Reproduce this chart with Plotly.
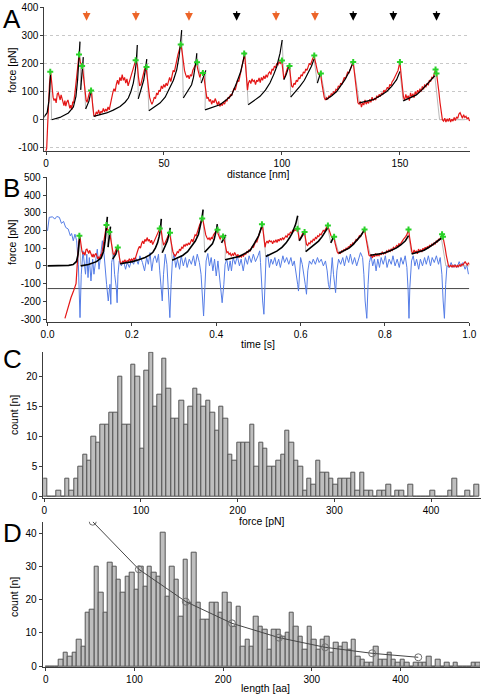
import plotly.graph_objects as go

W, H = 484, 698
FONT = "Liberation Sans, Arial, Helvetica, sans-serif"

# ---------------- Panel A / B : force-extension trace ----------------
red_trace = [
    (-4.7, -296), (-3.3, -230), (-2.0, -180), (-0.8, -140), (0.3, -100), (0.7, -20), (1.1, 60), (1.5, 130), (2.0, 168),
    (2.5, 120), (3.0, 80), (3.4, 68), (3.9, 75), (4.3, 60), (4.8, 92), (5.2, 95), (5.6, 78), (6.0, 70), (6.4, 88),
    (6.8, 72), (7.2, 58), (7.6, 50), (8.0, 68), (8.4, 48), (8.8, 62), (9.3, 70), (9.7, 55), (10.1, 40), (10.5, 52),
    (10.9, 35), (11.3, 62), (11.7, 60), (12.2, 90), (12.8, 140), (13.4, 190), (14.0, 230), (14.5, 205), (15.0, 195),
    (15.4, 190), (15.8, 160), (16.2, 120), (16.6, 85), (17.0, 70), (17.4, 62), (17.8, 80), (18.3, 92), (18.8, 103),
    (19.3, 95), (19.8, 50), (20.3, 15), (20.8, 12), (21.3, 28), (21.8, 20), (22.3, 35), (22.8, 18), (23.3, 30),
    (23.8, 25), (24.3, 40), (24.8, 28), (25.3, 38), (25.8, 30), (26.3, 45), (26.8, 35), (27.3, 60), (27.8, 75),
    (28.3, 95), (28.8, 110), (29.3, 100), (29.8, 125), (30.3, 140), (30.8, 125), (31.3, 150), (31.8, 138), (32.3, 160),
    (32.8, 140), (33.3, 150), (33.8, 130), (34.3, 145), (34.8, 120), (35.3, 135), (35.8, 150), (36.3, 165), (36.8, 175),
    (37.3, 195), (37.8, 205), (38.2, 210), (38.7, 195), (39.2, 150), (39.7, 120), (40.2, 125), (40.7, 140), (41.2, 160),
    (41.8, 180), (42.4, 187), (42.9, 150), (43.4, 100), (43.9, 80), (44.4, 65), (44.9, 55), (45.4, 65), (45.9, 80),
    (46.4, 75), (46.9, 95), (47.4, 88), (47.9, 105), (48.4, 100), (48.9, 120), (49.4, 110), (49.9, 125), (50.4, 115),
    (50.9, 130), (51.4, 120), (51.9, 140), (52.4, 150), (52.9, 135), (53.4, 160), (53.9, 175), (54.4, 170), (54.9, 195),
    (55.4, 210), (55.9, 230), (56.4, 245), (56.8, 255), (57.2, 267), (57.7, 240), (58.2, 200), (58.7, 175), (59.2, 160),
    (59.7, 150), (60.2, 158), (60.7, 145), (61.2, 160), (61.7, 155), (62.2, 175), (62.7, 185), (63.2, 195), (63.8, 203),
    (64.3, 180), (64.8, 160), (65.2, 150), (65.7, 165), (66.2, 170), (66.7, 165), (67.2, 130), (67.7, 95), (68.2, 75),
    (68.7, 80), (69.2, 65), (69.7, 72), (70.2, 55), (70.7, 68), (71.2, 60), (71.7, 75), (72.2, 60), (72.7, 52),
    (73.2, 65), (73.7, 47), (74.2, 58), (74.7, 50), (75.2, 62), (75.7, 55), (76.2, 70), (76.7, 65), (77.2, 80),
    (77.7, 75), (78.2, 90), (78.7, 85), (79.2, 100), (79.7, 110), (80.2, 105), (80.7, 125), (81.2, 140), (81.7, 135),
    (82.2, 160), (82.7, 180), (83.2, 195), (83.7, 215), (84.1, 234), (84.6, 190), (85.0, 140), (85.4, 105), (85.8, 130),
    (86.3, 140), (86.8, 128), (87.3, 145), (87.8, 136), (88.3, 140), (88.8, 125), (89.3, 140), (89.8, 135), (90.3, 148),
    (90.8, 132), (91.3, 150), (91.8, 140), (92.3, 155), (92.8, 145), (93.3, 160), (93.8, 150), (94.3, 165), (94.8, 170),
    (95.3, 160), (95.8, 180), (96.3, 175), (96.8, 190), (97.3, 185), (97.8, 200), (98.3, 195), (98.8, 205), (99.3, 200),
    (99.9, 210), (100.4, 180), (100.8, 145), (101.3, 155), (101.8, 170), (102.4, 185), (103.1, 191), (103.6, 160),
    (104.1, 120), (104.6, 115), (105.1, 130), (105.6, 125), (106.1, 140), (106.6, 135), (107.1, 150), (107.6, 145),
    (108.1, 160), (108.6, 155), (109.1, 170), (109.6, 165), (110.1, 180), (110.6, 175), (111.1, 190), (111.6, 200),
    (112.1, 195), (112.6, 210), (113.1, 218), (113.6, 227), (114.1, 205), (114.6, 190), (115.1, 170), (115.6, 160),
    (116.4, 162), (116.9, 130), (117.4, 100), (117.9, 80), (118.4, 70), (118.9, 78), (119.4, 72), (119.9, 85),
    (120.4, 80), (120.9, 92), (121.4, 88), (121.9, 100), (122.4, 95), (122.9, 108), (123.4, 105), (123.9, 120),
    (124.4, 115), (124.9, 130), (125.4, 125), (125.9, 140), (126.4, 150), (126.9, 145), (127.4, 160), (127.9, 170),
    (128.4, 165), (128.9, 180), (129.4, 190), (129.8, 198), (130.2, 204), (130.7, 170), (131.2, 120), (131.7, 80),
    (132.2, 60), (132.7, 55), (133.2, 65), (133.7, 45), (134.2, 60), (134.7, 52), (135.2, 70), (135.7, 55), (136.2, 65),
    (136.7, 58), (137.2, 72), (137.7, 62), (138.2, 80), (138.7, 68), (139.2, 75), (139.7, 70), (140.2, 85), (140.7, 78),
    (141.2, 90), (141.7, 82), (142.2, 95), (142.7, 88), (143.2, 105), (143.7, 98), (144.2, 110), (144.7, 115),
    (145.2, 108), (145.7, 125), (146.2, 120), (146.7, 135), (147.2, 140), (147.7, 150), (148.2, 155), (148.7, 165),
    (149.2, 175), (149.6, 190), (150.0, 205), (150.5, 160), (151.0, 110), (151.5, 80), (152.0, 70), (152.5, 90),
    (153.0, 75), (153.5, 85), (154.0, 68), (154.5, 95), (155.0, 80), (155.5, 92), (156.0, 78), (156.5, 100), (157.0, 88),
    (157.5, 105), (158.0, 95), (158.5, 110), (159.0, 100), (159.5, 118), (160.0, 108), (160.5, 125), (161.0, 115),
    (161.5, 130), (162.0, 122), (162.5, 140), (163.0, 135), (163.5, 150), (164.0, 148), (164.5, 160), (165.0, 175),
    (165.5, 165), (166.0, 140), (166.5, 100), (167.0, 60), (167.5, 20), (168.0, 0), (168.5, -5), (169.0, 5),
    (169.5, -8), (170.0, 3), (170.5, -6), (171.0, 5), (171.5, -8), (172.0, 2), (172.5, -5), (173.0, 8), (173.5, -3),
    (174.0, 10), (174.5, 5), (175.0, 20), (175.5, 25), (176.0, 12), (176.5, 5), (177.0, 18), (177.5, 8), (178.0, 12),
    (178.5, 2), (179.0, 8), (179.5, -5),
]
red_distance_nm = [p[0] for p in red_trace]
red_force_pN = [p[1] for p in red_trace]

# worm-like-chain fit segments (distance nm, force pN)
fit_distance_nm = [
    [-12.5, -9, -6, -3, -1, 0.5, 1.2, 1.6, 1.9],
    [2.4, 5.9, 9.5, 11.6, 12.7, 13.4, 14.0, 14.4],
    [14.7, 15.0, 15.4, 15.8],
    [16.8, 17.5, 18.2, 18.9, 19.3],
    [20.2, 23, 25.7, 28.5, 31.4, 33.5, 34.9, 36, 37, 37.7, 38.2, 38.7],
    [39.1, 40.5, 41.4, 41.9, 42.7],
    [43.6, 46, 48.3, 50.5, 52.5, 54, 55.4, 56.4, 57.0, 57.5],
    [58.2, 59.6, 61.0, 61.7, 62.5, 63.1, 63.6, 63.9],
    [65.8, 66.5, 67.2, 67.7],
    [67.4, 70.5, 73.7, 76.6, 78.7, 80.8, 82.5, 84.0, 84.4],
    [85.7, 88, 90.7, 93, 94.9, 96.5, 97.8, 99.2, 100.1],
    [100.8, 101.8, 102.7, 103.4],
    [103.7, 105.6, 107.6, 109.5, 111.1, 112.5, 113.6],
    [115.0, 115.7, 116.4],
    [118.6, 121, 123.2, 125, 126.7, 128.5, 130.2],
    [132.8, 135.5, 138.7, 141.5, 144.4, 146.5, 148.6, 150.0],
    [151.4, 154, 157, 159.2, 161.3, 163.2, 164.8],
]
fit_force_pN = [
    [0, 0, 1, 3, 8, 25, 65, 110, 160],
    [0, 8, 24, 45, 83, 142, 224, 277],
    [106, 150, 195, 222],
    [38, 50, 66, 94, 106],
    [12, 17, 24, 34, 47, 62, 77, 100, 130, 165, 200, 265],
    [74, 112, 140, 165, 215],
    [32, 45, 59, 80, 112, 140, 177, 225, 270, 318],
    [77, 95, 112, 124, 150, 177, 210, 236],
    [130, 145, 160, 175],
    [35, 43, 53, 72, 88, 131, 170, 225, 238],
    [53, 66, 83, 105, 130, 160, 189, 236, 283],
    [142, 160, 183, 195],
    [80, 98, 118, 140, 165, 190, 215],
    [130, 148, 167],
    [71, 84, 100, 120, 142, 170, 203],
    [60, 64, 71, 84, 100, 118, 142, 171],
    [67, 76, 88, 105, 124, 140, 156],
]
tail_distance_nm = [166.8, 177.4]
tail_force_pN = [0, 0]

# rupture peaks (green)
peak_distance_nm = [1.8, 14.0, 15.3, 19.1, 38.0, 42.6, 57.1, 64.0, 66.5, 84.0, 100.0, 103.2, 113.7, 116.5, 130.2, 150.0, 165.1, 165.5]
peak_force_pN = [170, 231, 191, 104, 211, 187, 267, 204, 166, 235, 210, 191, 228, 164, 205, 205, 178, 164]

# arrows above panel A
arrow_orange_nm = [17.2, 38.1, 60.6, 97.5, 114.0]
arrow_black_nm = [80.8, 130.2, 147.2, 165.5]

# time conversion for panel B (constant pulling speed)
PULL_T0_S = 0.066
PULL_S_PER_NM = 0.005266

# derivative signal in panel B (time s, pN)
blue_trace = [
    (0.0, 198), (0.004, 274), (0.012, 277), (0.017, 264), (0.022, 279), (0.028, 274), (0.033, 240), (0.038, 251),
    (0.043, 217), (0.049, 208), (0.054, 170), (0.057, 183), (0.061, 142), (0.065, 179), (0.069, 142), (0.073, 9),
    (0.077, -292), (0.080, -47), (0.084, 85), (0.087, 28), (0.090, -47), (0.093, 66), (0.096, -66), (0.099, 47),
    (0.103, -85), (0.107, 38), (0.110, -47), (0.114, 28), (0.118, 94), (0.122, -19), (0.126, 66), (0.130, 142),
    (0.134, 66), (0.137, -47), (0.140, -104), (0.144, -198), (0.148, -104), (0.150, -217), (0.152, 19), (0.156, 66),
    (0.159, -47), (0.163, -123), (0.165, -208), (0.167, -47), (0.170, 28), (0.175, 0), (0.180, 28), (0.185, -19),
    (0.189, 19), (0.194, -9), (0.199, 32), (0.204, 9), (0.209, 47), (0.215, 9), (0.219, 57), (0.225, 19), (0.230, -28),
    (0.235, 47), (0.239, 9), (0.243, 75), (0.247, -28), (0.251, 38), (0.255, 57), (0.259, 19), (0.263, 66),
    (0.266, -28), (0.269, -123), (0.272, -198), (0.275, -47), (0.279, 66), (0.283, 9), (0.286, -104), (0.288, -179),
    (0.290, -292), (0.293, -104), (0.296, 28), (0.300, 66), (0.304, -9), (0.308, 38), (0.313, -19), (0.317, 57),
    (0.322, 0), (0.327, 47), (0.331, -9), (0.336, 38), (0.341, 9), (0.346, 57), (0.350, 0), (0.355, 66), (0.360, 19),
    (0.364, -47), (0.367, -160), (0.370, -283), (0.373, -123), (0.376, 28), (0.380, 70), (0.384, 0), (0.388, 47),
    (0.392, -28), (0.396, 38), (0.400, -57), (0.404, 28), (0.408, -85), (0.411, -123), (0.414, -208), (0.418, -104),
    (0.421, 9), (0.425, 38), (0.429, -28), (0.433, 28), (0.436, -28), (0.440, 47), (0.445, 9), (0.450, 57), (0.455, 0),
    (0.459, 38), (0.464, -28), (0.469, 47), (0.474, 9), (0.478, 57), (0.483, 19), (0.488, 66), (0.493, 24),
    (0.499, 57), (0.503, 85), (0.505, 19), (0.507, -85), (0.510, -198), (0.513, -273), (0.515, -104), (0.518, 47),
    (0.522, 66), (0.526, -9), (0.530, 38), (0.534, 9), (0.539, 47), (0.543, 0), (0.548, 38), (0.552, -9), (0.558, 57),
    (0.562, 19), (0.567, 47), (0.572, 9), (0.577, 47), (0.581, 0), (0.585, 28), (0.589, -28), (0.593, -104),
    (0.595, -142), (0.598, -47), (0.600, 47), (0.604, 9), (0.608, -47), (0.611, -104), (0.614, -160), (0.617, -28),
    (0.621, 28), (0.626, 9), (0.630, 38), (0.635, 9), (0.640, 47), (0.644, 19), (0.649, 38), (0.654, 0), (0.659, 28),
    (0.663, -28), (0.666, -104), (0.669, -132), (0.672, -47), (0.675, 47), (0.678, -47), (0.681, -123), (0.683, -151),
    (0.686, -28), (0.690, 38), (0.695, 9), (0.700, 47), (0.704, 0), (0.709, 57), (0.714, 19), (0.718, 66), (0.723, 9),
    (0.728, 47), (0.733, 0), (0.738, 38), (0.742, 75), (0.747, 47), (0.750, -47), (0.753, -198), (0.757, -296),
    (0.760, -104), (0.763, 19), (0.767, 57), (0.771, 0), (0.775, 38), (0.779, -28), (0.783, 38), (0.787, -9),
    (0.791, 47), (0.796, 9), (0.801, 57), (0.805, -9), (0.810, 38), (0.815, 9), (0.819, 57), (0.824, 0), (0.829, 38),
    (0.834, -9), (0.838, 47), (0.843, 9), (0.848, 57), (0.852, -9), (0.855, -142), (0.857, -296), (0.859, -123),
    (0.863, 28), (0.867, 57), (0.871, 0), (0.875, 38), (0.880, -19), (0.884, 38), (0.889, 0), (0.894, 47), (0.898, 9),
    (0.903, 57), (0.908, 0), (0.912, 47), (0.917, 19), (0.922, 57), (0.927, 9), (0.931, 47), (0.935, -47),
    (0.938, -198), (0.941, -296), (0.944, -104), (0.947, 0), (0.952, -9), (0.957, 19), (0.961, -9), (0.966, 9),
    (0.971, -9), (0.976, 24), (0.980, 0), (0.985, 19), (0.990, -19), (0.994, 5), (0.998, -47),
]
blue_time_s = [p[0] for p in blue_trace]
blue_force_pN = [p[1] for p in blue_trace]
threshold_pN = -128

# ---------------- Panel C : rupture force histogram ----------------
force_bin_start = -1.0
force_bin_width = 4.55
force_counts = [3, 0, 0, 1, 0, 3, 1, 3, 5, 7, 6, 10, 9, 12, 12, 14, 14, 20, 12, 12, 22, 20, 8, 21, 24, 15, 17, 23, 18, 13,
                13, 16, 12, 15, 18, 17, 15, 16, 14, 11, 15, 13, 7, 6, 9, 9, 9, 12, 5, 9, 8, 5, 5, 6, 7, 11, 9, 6, 5, 1,
                3, 2, 6, 4, 4, 3, 2, 3, 3, 3, 4, 1, 4, 1, 1, 0, 1, 1, 2, 0, 1, 1, 0, 2, 0, 0, 0, 0, 1, 0,
                0, 0, 1, 3, 0, 0, 1, 0, 2]

# ---------------- Panel D : contour length histogram ----------------
length_bin_start = 0.0
length_bin_width = 5.0
length_counts = [0, 0, 0, 2, 4, 3, 4, 8, 6, 16, 17, 30, 22, 16, 31, 30, 26, 22, 27, 28, 23, 30, 24, 30, 28, 27, 40, 21, 30,
                 26, 15, 32, 19, 34, 19, 14, 14, 19, 19, 16, 22, 19, 12, 18, 6, 8, 6, 15, 12, 11, 5, 11, 11, 9, 10, 16,
                 12, 9, 5, 12, 8, 5, 8, 9, 4, 7, 6, 7, 5, 8, 3, 2, 1, 1, 6, 2, 2, 4, 2, 1, 2, 1, 0, 1, 1, 1, 3, 0, 2,
                 0, 1, 0, 1, 0, 0, 0, 1, 1]
model_length_aa = [53, 105, 158, 210, 263, 315, 368, 420]
model_count = [43.4, 29.1, 19.4, 12.9, 8.6, 5.7, 3.9, 2.7]

# ---------------- build figure ----------------
RED = "rgb(228,22,22)"
BLUE = "rgb(85,125,230)"
GREEN = "rgb(40,210,40)"
ORANGE = "rgb(236,100,40)"


def to_time(dlist):
    return [None if d is None else PULL_T0_S + d * PULL_S_PER_NM for d in dlist]


# connectors (thin gray) from end of each fit to start of the next
conn_d, conn_f = [], []
segs_d = fit_distance_nm + [tail_distance_nm]
segs_f = fit_force_pN + [tail_force_pN]
for k in range(len(segs_d) - 1):
    conn_d += [segs_d[k][-1], segs_d[k + 1][0], None]
    conn_f += [segs_f[k][-1], segs_f[k + 1][0], None]
tail_conn_d = tail_distance_nm + [None]
tail_conn_f = tail_force_pN + [None]

fits_d, fits_f = [], []
for dd, ff in zip(fit_distance_nm, fit_force_pN):
    fits_d += dd + [None]
    fits_f += ff + [None]

fig = go.Figure()

# Panel A
fig.add_trace(go.Scatter(x=conn_d + tail_conn_d, y=conn_f + tail_conn_f, mode="lines",
                         line=dict(color="rgb(185,185,185)", width=1), xaxis="x", yaxis="y", hoverinfo="skip"))
fig.add_trace(go.Scatter(x=red_distance_nm, y=red_force_pN, mode="lines", line=dict(color=RED, width=1.2),
                         xaxis="x", yaxis="y"))
fig.add_trace(go.Scatter(x=fits_d, y=fits_f, mode="lines", line=dict(color="black", width=1.2),
                         xaxis="x", yaxis="y"))
fig.add_trace(go.Scatter(x=peak_distance_nm, y=peak_force_pN, mode="markers",
                         marker=dict(symbol="cross", size=5, color=GREEN), xaxis="x", yaxis="y"))

# Panel B
fig.add_trace(go.Scatter(x=[0, 1], y=[threshold_pN, threshold_pN], mode="lines",
                         line=dict(color="rgb(70,70,70)", width=1), xaxis="x2", yaxis="y2"))
fig.add_trace(go.Scatter(x=blue_time_s, y=blue_force_pN, mode="lines", line=dict(color=BLUE, width=1),
                         xaxis="x2", yaxis="y2"))
fig.add_trace(go.Scatter(x=to_time(conn_d + tail_conn_d), y=conn_f + tail_conn_f, mode="lines",
                         line=dict(color="rgb(185,185,185)", width=1), xaxis="x2", yaxis="y2"))
fig.add_trace(go.Scatter(x=to_time(red_distance_nm), y=red_force_pN, mode="lines", line=dict(color=RED, width=1.2),
                         xaxis="x2", yaxis="y2"))
fig.add_trace(go.Scatter(x=to_time(fits_d), y=fits_f, mode="lines", line=dict(color="black", width=1.6),
                         xaxis="x2", yaxis="y2"))
fig.add_trace(go.Scatter(x=to_time(peak_distance_nm), y=peak_force_pN, mode="markers",
                         marker=dict(symbol="cross", size=5, color=GREEN), xaxis="x2", yaxis="y2"))

# Panel C
fig.add_trace(go.Bar(x=[force_bin_start + force_bin_width * (k + 0.5) for k in range(len(force_counts))],
                     y=force_counts, width=force_bin_width,
                     marker=dict(color="rgb(190,190,190)", line=dict(color="rgb(85,85,85)", width=1)),
                     xaxis="x3", yaxis="y3"))

# Panel D
fig.add_trace(go.Bar(x=[length_bin_start + length_bin_width * (k + 0.5) for k in range(len(length_counts))],
                     y=length_counts, width=length_bin_width,
                     marker=dict(color="rgb(190,190,190)", line=dict(color="rgb(85,85,85)", width=1)),
                     xaxis="x4", yaxis="y4"))
fig.add_trace(go.Scatter(x=model_length_aa, y=model_count, mode="lines+markers",
                         line=dict(color="rgb(70,70,70)", width=1),
                         marker=dict(symbol="circle-open", size=7, color="rgb(110,110,110)", line=dict(width=1)),
                         xaxis="x4", yaxis="y4"))


def px_x(p):
    return p / W


def px_y(p):
    return 1 - p / H


axis_common = dict(showline=True, linecolor="rgb(60,60,60)", linewidth=1, ticks="outside", ticklen=3,
                   tickcolor="rgb(60,60,60)", tickfont=dict(family=FONT, size=10, color="black"),
                   zeroline=False, showgrid=False, mirror=False, automargin=False)

fig.update_layout(
    width=W, height=H, margin=dict(l=0, r=0, t=0, b=0, pad=0), autosize=False,
    paper_bgcolor="white", plot_bgcolor="white", showlegend=False, bargap=0,
    font=dict(family=FONT, size=11, color="black"),
    xaxis=dict(axis_common, domain=[px_x(44.3), px_x(470)], range=[-0.72, 179.7], anchor="y",
               tickvals=[0, 50, 100, 150]),
    yaxis=dict(axis_common, domain=[px_y(150.7), px_y(7)], range=[-110, 400], anchor="x",
               tickvals=[-100, 0, 100, 200, 300, 400], ticktext=["-100", "0", "100", "200", "300", "400"],
               showgrid=True, gridcolor="rgb(200,200,200)", griddash="dot", gridwidth=1),
    xaxis2=dict(axis_common, domain=[px_x(46.7), px_x(469.3)], range=[-0.002, 1.0], anchor="y2",
                tickvals=[0, 0.2, 0.4, 0.6, 0.8, 1.0], ticktext=["0.0", "0.2", "0.4", "0.6", "0.8", "1.0"]),
    yaxis2=dict(axis_common, domain=[px_y(321.7), px_y(177.3)], range=[-315, 500], anchor="x2",
                tickvals=[-300, -200, -100, 0, 100, 200, 300, 400, 500],
                ticktext=["-300", "-200", "-100", "0", "100", "200", "300", "400", "500"]),
    xaxis3=dict(axis_common, domain=[px_x(43.3), px_x(480.7)], range=[-1.0, 451.3], anchor="y3",
                tickvals=[0, 100, 200, 300, 400]),
    yaxis3=dict(axis_common, domain=[px_y(497.7), px_y(351.7)], range=[-0.17, 24.1], anchor="x3",
                tickvals=[0, 5, 10, 15, 20]),
    xaxis4=dict(axis_common, domain=[px_x(42.7), px_x(480)], range=[-3.4, 489.6], anchor="y4",
                tickvals=[0, 100, 200, 300, 400]),
    yaxis4=dict(axis_common, domain=[px_y(667.3), px_y(521.7)], range=[-0.3, 43.4], anchor="x4",
                tickvals=[0, 10, 20, 30, 40]),
)

ann = []
# panel letters
for letter, py in [("A", 2), ("B", 171), ("C", 342), ("D", 516)]:
    ann.append(dict(text=letter, x=px_x(1), y=px_y(py), xref="paper", yref="paper", xanchor="left",
                    yanchor="top", showarrow=False, font=dict(family=FONT, size=26, color="black")))
# axis titles
for txt, x, y, ang in [("distance [nm]", 258, 174, 0), ("force [pN]", 12, 70, -90),
                       ("time [s]", 258, 344, 0), ("force [pN]", 12, 242, -90),
                       ("force [pN]", 262, 521, 0), ("count [n]", 14, 415, -90),
                       ("length [aa]", 265, 688, 0), ("count [n]", 14, 597, -90)]:
    ann.append(dict(text=txt, x=px_x(x), y=px_y(y), xref="paper", yref="paper", xanchor="center",
                    yanchor="middle", showarrow=False, textangle=ang,
                    font=dict(family=FONT, size=10.5, color="black")))
# arrows
for d in arrow_orange_nm:
    ann.append(dict(x=d, y=351, xref="x", yref="y", ax=0, ay=-11, text="", showarrow=True, arrowhead=2,
                    arrowsize=1.2, arrowwidth=1.3, arrowcolor=ORANGE))
for d in arrow_black_nm:
    ann.append(dict(x=d, y=351, xref="x", yref="y", ax=0, ay=-11, text="", showarrow=True, arrowhead=2,
                    arrowsize=1.2, arrowwidth=1.3, arrowcolor="black"))
fig.update_layout(annotations=ann)

fig.write_html("out.html", config={"displayModeBar": False},
               post_script="document.body.style.margin='0px';document.body.style.padding='0px';")
